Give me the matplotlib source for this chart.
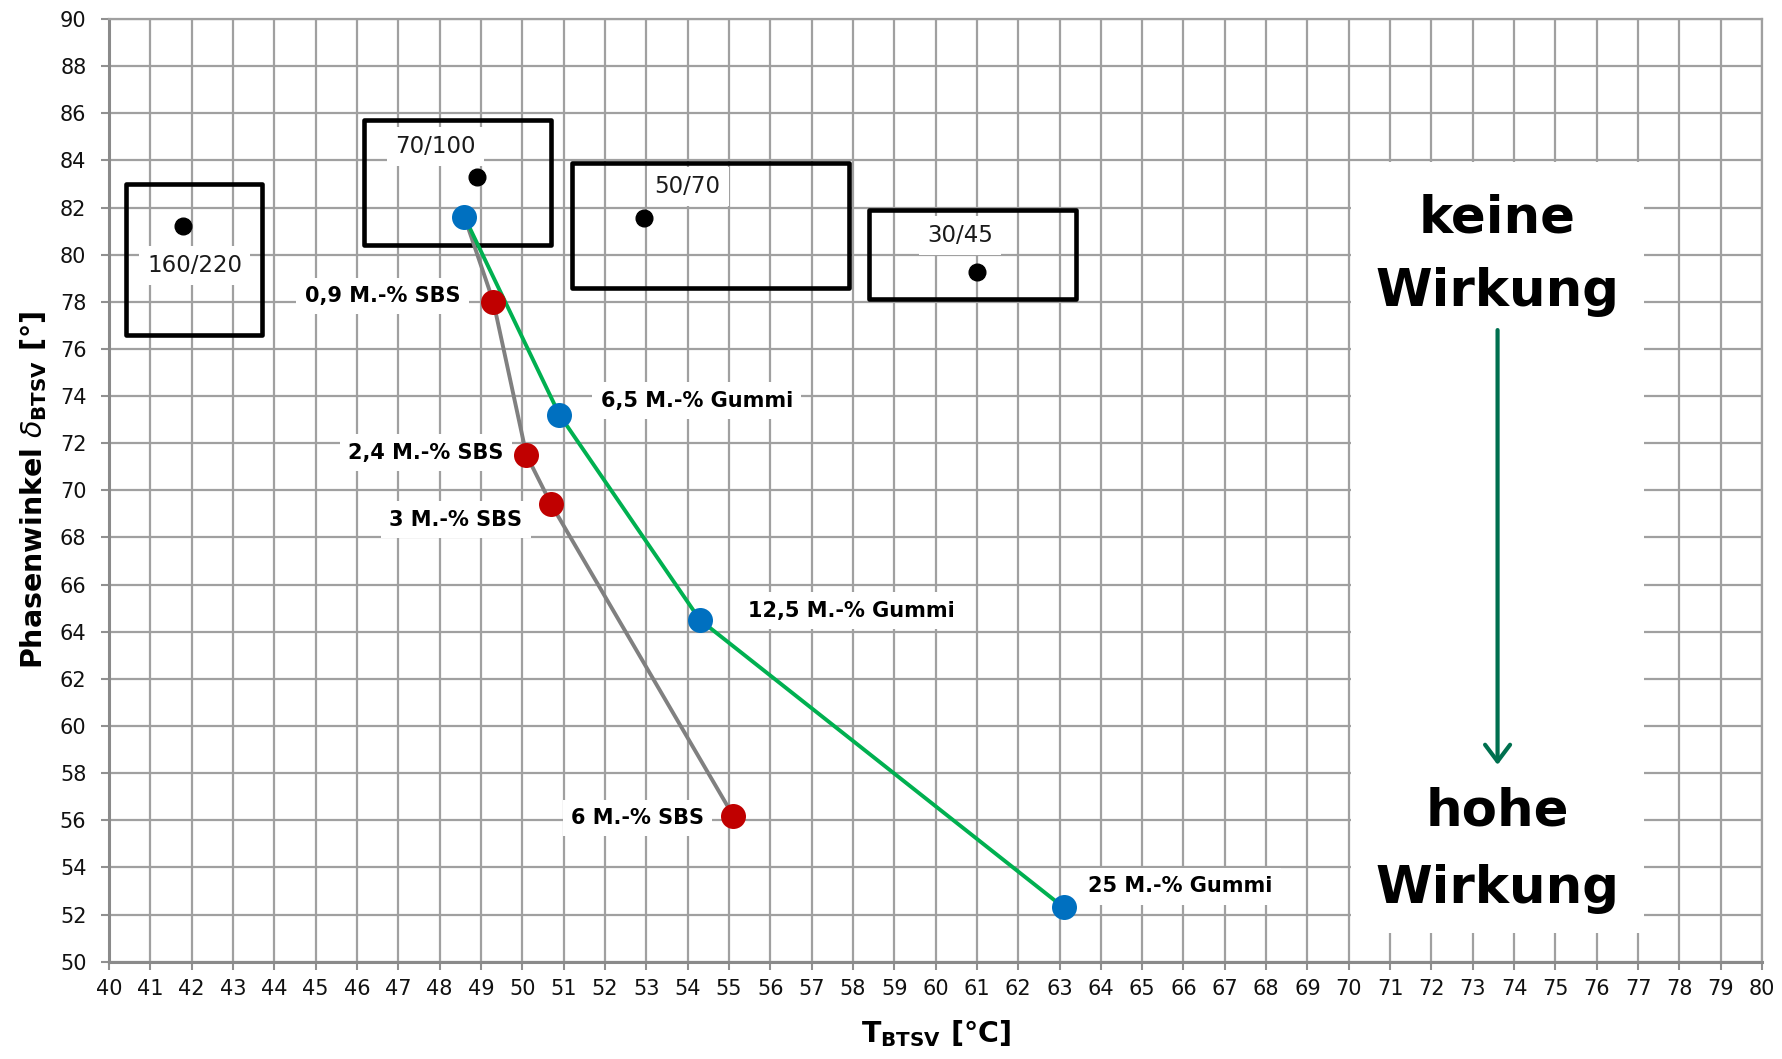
import numpy as np
import matplotlib.pyplot as plt
from matplotlib.patches import Rectangle, FancyArrowPatch

# Bitumen-Sorten: Messpunkt und Streubereich (T_min, T_max, delta_min, delta_max)
grades = ['160/220', '70/100', '50/70', '30/45']
grade_T = [41.8, 48.9, 52.95, 61.0]
grade_delta = [81.2, 83.3, 81.55, 79.25]
grade_T_range = [(40.4, 43.7), (46.17, 50.7), (51.2, 57.9), (58.4, 63.4)]
grade_delta_range = [(76.6, 83.0), (80.4, 85.7), (78.6, 83.9), (78.1, 81.9)]
grade_label_pos = [(42.07, 79.55), (47.9, 84.58), (54.0, 82.9), (60.6, 80.8)]

# SBS-modifizierte Bindemittel (Start bei 70/100)
sbs_labels = ['', '0,9 M.-% SBS', '2,4 M.-% SBS', '3 M.-% SBS', '6 M.-% SBS']
sbs_T = [48.6, 49.3, 50.1, 50.7, 55.1]
sbs_delta = [81.6, 78.0, 71.5, 69.4, 56.2]
sbs_label_pos = [None, (48.5, 78.25), (49.54, 71.6), (50.0, 68.75), (54.4, 56.1)]

# Gummimodifizierte Bindemittel (Start bei 70/100)
gummi_labels = ['', '6,5 M.-% Gummi', '12,5 M.-% Gummi', '25 M.-% Gummi']
gummi_T = [48.6, 50.9, 54.3, 63.1]
gummi_delta = [81.6, 73.2, 64.5, 52.3]
gummi_label_pos = [None, (51.9, 73.8), (55.45, 64.9), (63.7, 53.2)]

plt.rcParams['font.family'] = 'DejaVu Sans'

fig = plt.figure(figsize=(17.82, 10.59), dpi=100)
ax = fig.add_axes([0.0612, 0.0919, 0.9276, 0.8902])

ax.set_xlim(40, 80)
ax.set_ylim(50, 90)
ax.set_xticks(np.arange(40, 81, 1))
ax.set_yticks(np.arange(50, 91, 2))
ax.grid(True, color='#a0a0a0', lw=1.6)
ax.set_axisbelow(True)
ax.tick_params(direction='out', length=5.8, width=1.5, color='#909090',
               labelsize=15, labelcolor='#111111')
ax.tick_params(axis='x', pad=6.5)
ax.tick_params(axis='y', pad=10.5)
for side in ['left', 'bottom']:
    ax.spines[side].set_color('#8a8a8a')
    ax.spines[side].set_linewidth(2.2)
for side in ['top', 'right']:
    ax.spines[side].set_color('#a0a0a0')
    ax.spines[side].set_linewidth(1.6)

# Streubereiche der Sorten
for (t0, t1), (d0, d1) in zip(grade_T_range, grade_delta_range):
    ax.add_patch(Rectangle((t0, d0), t1 - t0, d1 - d0, fill=False,
                           ec='black', lw=3.3, joinstyle='round', zorder=4))
ax.scatter(grade_T, grade_delta, s=12**2, color='black', zorder=5)
for name, (x, y) in zip(grades, grade_label_pos):
    ax.text(x, y, name, fontsize=16.5, ha='center', va='center', color='#1a1a1a',
            bbox=dict(boxstyle='square,pad=0.35', fc='white', ec='none'), zorder=3)

# Verlaeufe der modifizierten Bindemittel
ax.plot(sbs_T, sbs_delta, color='#808080', lw=2.8, zorder=5)
ax.plot(gummi_T, gummi_delta, color='#00b050', lw=2.8, zorder=5)
ax.plot(sbs_T[1:], sbs_delta[1:], 'o', color='#c00000', ms=18, mew=0, zorder=6)
ax.plot(gummi_T, gummi_delta, 'o', color='#0070c0', ms=18, mew=0, zorder=6)

for lab, pos in zip(sbs_labels, sbs_label_pos):
    if pos:
        ax.text(pos[0], pos[1], lab, fontsize=15, fontweight='bold', ha='right', va='center',
                bbox=dict(boxstyle='square,pad=0.4', fc='white', ec='none'), zorder=3)
for lab, pos in zip(gummi_labels, gummi_label_pos):
    if pos:
        ax.text(pos[0], pos[1], lab, fontsize=15, fontweight='bold', ha='left', va='center',
                bbox=dict(boxstyle='square,pad=0.4', fc='white', ec='none'), zorder=3)

# Wirkungsskala rechts
ax.add_patch(Rectangle((70.06, 51.2), 7.09, 32.75, fc='white', ec='none', zorder=1))
ax.text(73.6, 80.92, 'keine', fontsize=37, fontweight='bold', ha='center', va='baseline', zorder=3)
ax.text(73.6, 77.8, 'Wirkung', fontsize=37, fontweight='bold', ha='center', va='baseline', zorder=3)
ax.text(73.6, 55.76, 'hohe', fontsize=37, fontweight='bold', ha='center', va='baseline', zorder=3)
ax.text(73.6, 52.5, 'Wirkung', fontsize=37, fontweight='bold', ha='center', va='baseline', zorder=3)
ax.add_patch(FancyArrowPatch((73.6, 76.8), (73.6, 58.35),
                             arrowstyle='->,head_length=0.6,head_width=0.45',
                             mutation_scale=20, color='#00704f', lw=3, zorder=3,
                             shrinkA=0, shrinkB=0))

ax.set_xlabel(r'T$_{\mathbf{BTSV}}$ [°C]', fontsize=20.5, fontweight='bold', labelpad=14)
ax.set_ylabel(r'Phasenwinkel $\delta_{\mathbf{BTSV}}$ [°]', fontsize=20.5,
              fontweight='bold', labelpad=8)

fig.savefig('out.png', dpi=100)
